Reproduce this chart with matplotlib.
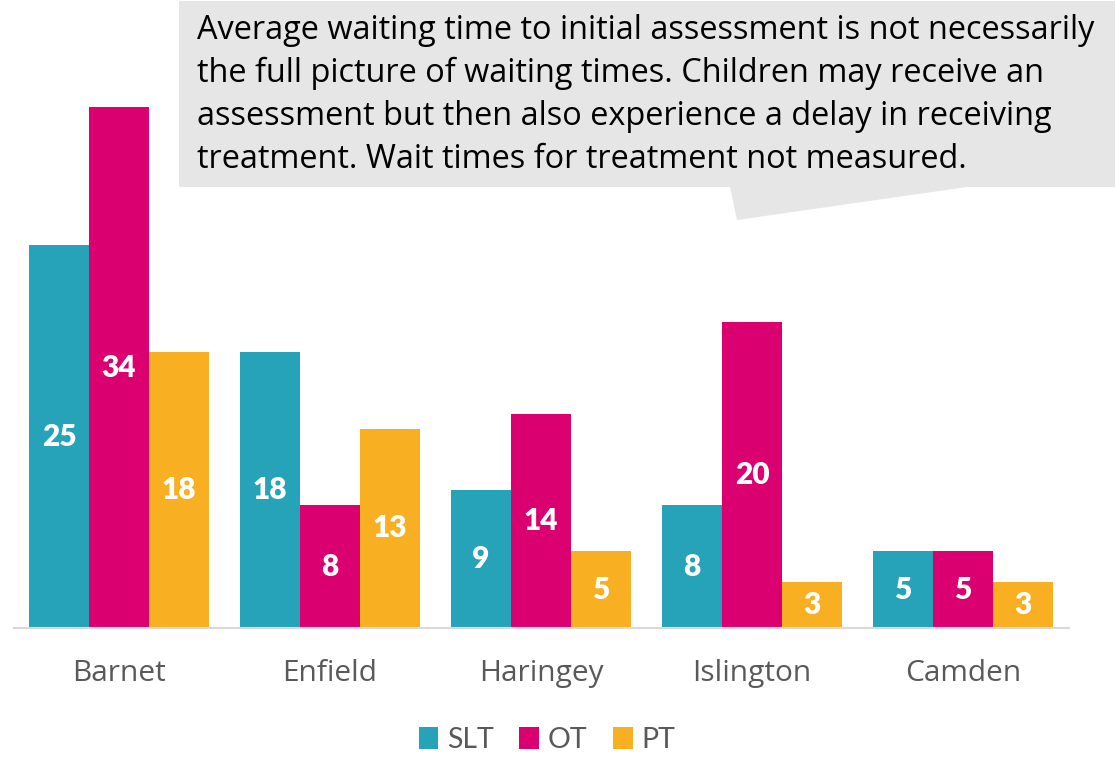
import numpy as np
import matplotlib
matplotlib.use("Agg")
import matplotlib.pyplot as plt
from matplotlib.patches import Polygon

# data
areas = ["Barnet", "Enfield", "Haringey", "Islington", "Camden"]
slt = [25, 18, 9, 8, 5]
ot = [34, 8, 14, 20, 5]
pt = [18, 13, 5, 3, 3]
series_names = ["SLT", "OT", "PT"]
note = ("Average waiting time to initial assessment is not necessarily\n"
        "the full picture of waiting times. Children may receive an\n"
        "assessment but then also experience a delay in receiving\n"
        "treatment. Wait times for treatment not measured.")

colors = ["#26A3B8", "#DB0070", "#F8AF22"]

W, H = 1115, 757
fig = plt.figure(figsize=(W / 100, H / 100), dpi=100, facecolor="white")
ax = fig.add_axes([13.5 / W, (H - 628) / H, 1055 / W, 628 / H])

x = np.arange(len(areas))
bw = 0.284
for i, (vals, name, c) in enumerate(zip([slt, ot, pt], series_names, colors)):
    bars = ax.bar(x + (i - 1) * bw, vals, bw, color=c, label=name, zorder=2)
    for b, v in zip(bars, vals):
        ax.text(b.get_x() + b.get_width() / 2, v / 2, str(v), ha="center", va="center",
                color="white", fontsize=21.5, fontweight="heavy", family="Lato")

ax.set_xlim(-0.5, len(areas) - 0.5)
ax.set_ylim(0, 41.0)
ax.set_yticks([])
ax.set_xticks(x)
ax.set_xticklabels(areas, fontsize=21.5, color="#595959", family="Open Sans")
ax.tick_params(axis="x", length=0, pad=22)
for s in ["top", "right", "left"]:
    ax.spines[s].set_visible(False)
ax.spines["bottom"].set_color("#D9D9D9")
ax.spines["bottom"].set_linewidth(1.5)
ax.patch.set_alpha(0)

leg = fig.legend(loc="center", bbox_to_anchor=(547 / W, 1 - 740 / H), ncol=3, frameon=False,
                 prop={"family": "Lato", "size": 20.5}, handlelength=0.7, handleheight=0.8,
                 handletextpad=0.3, columnspacing=0.9)
for t in leg.get_texts():
    t.set_color("#595959")

# callout box with pointer
def px(pts):
    return [(a / W, 1 - b / H) for a, b in pts]

callout = Polygon(px([(179, 1), (1115, 1), (1115, 187), (967, 187), (737, 220),
                      (730, 187), (179, 187)]),
                  closed=True, transform=fig.transFigure, facecolor="#E6E6E6",
                  edgecolor="none", zorder=5)
fig.add_artist(callout)
fig.text(197 / W, 1 - 14 / H, note, ha="left", va="top", fontsize=23.4,
         family="Open Sans", color="black", linespacing=1.39, zorder=6)

fig.savefig("out.png", dpi=100, facecolor="white")
